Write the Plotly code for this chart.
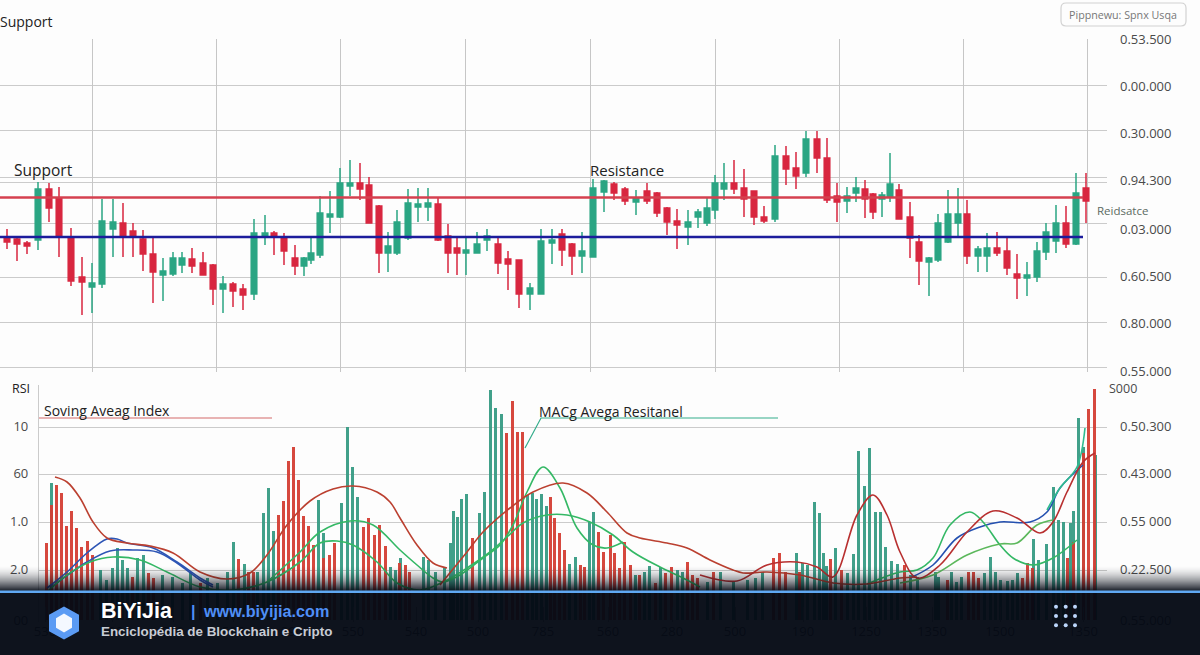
"""Candlestick chart with support / resistance levels and an indicator panel below."""

import plotly.graph_objects as go

# --- price panel ---
candle_x = [7, 17, 27, 38, 49, 59, 71, 82, 92, 102, 113, 123, 133, 143, 153, 163, 173, 182, 192, 203,
            213, 223, 233, 243, 254, 265, 274, 284, 295, 304, 311, 320, 330, 340, 350, 360, 369, 379, 388, 397,
            408, 418, 428, 438, 448, 457, 466, 477, 487, 498, 508, 519, 530, 541, 552, 562, 572, 582, 593, 604,
            614, 625, 636, 647, 657, 667, 677, 688, 698, 707, 715, 724, 734, 744, 754, 764, 775, 786, 796, 806,
            817, 827, 837, 847, 856, 865, 873, 882, 890, 899, 910, 919, 929, 938, 948, 958, 967, 978, 987, 997,
            1007, 1017, 1027, 1037, 1046, 1056, 1066, 1076, 1086]
candle_open = [135, 133, 129, 132, 183, 174, 134, 95, 85, 88, 143, 149, 141, 133, 118, 97, 98, 107, 113, 109,
               107, 83, 88, 83, 78, 136, 139, 134, 114, 106, 112, 117, 155, 155, 186, 189, 187, 166, 119, 119,
               134, 165, 165, 168, 136, 124, 119, 119, 132, 128, 113, 112, 78, 78, 129, 138, 128, 116, 115, 180,
               188, 183, 170, 181, 179, 164, 151, 145, 155, 149, 162, 183, 189, 184, 181, 155, 153, 216, 204, 199,
               233, 214, 176, 171, 179, 183, 178, 173, 175, 182, 155, 130, 110, 112, 130, 149, 158, 116, 116, 124,
               121, 98, 94, 95, 120, 131, 149, 128, 184]
candle_high = [143, 135, 131, 190, 189, 185, 144, 115, 109, 173, 173, 169, 149, 142, 134, 114, 120, 120, 124, 120,
               108, 96, 90, 88, 153, 157, 141, 139, 127, 115, 136, 176, 181, 204, 212, 209, 195, 167, 140, 162,
               183, 184, 184, 175, 148, 134, 135, 140, 143, 135, 121, 112, 89, 143, 143, 143, 129, 140, 193, 192,
               190, 185, 182, 189, 180, 165, 163, 162, 163, 174, 197, 209, 212, 203, 181, 166, 227, 226, 220, 241,
               241, 234, 189, 185, 195, 192, 179, 180, 219, 188, 170, 137, 115, 158, 182, 184, 172, 126, 139, 140,
               134, 118, 110, 130, 149, 167, 166, 199, 199]
candle_low = [123, 111, 118, 122, 150, 115, 86, 57, 59, 84, 115, 115, 115, 101, 69, 71, 96, 99, 99, 97,
              67, 59, 65, 62, 72, 127, 117, 107, 97, 96, 108, 114, 139, 154, 176, 172, 149, 99, 100, 117,
              132, 150, 151, 131, 99, 97, 97, 119, 121, 98, 82, 64, 62, 78, 108, 106, 97, 99, 115, 160,
              172, 167, 157, 168, 155, 137, 123, 127, 144, 146, 153, 172, 178, 155, 147, 149, 150, 187, 183, 195,
              199, 169, 150, 159, 170, 154, 153, 155, 170, 153, 114, 87, 76, 110, 129, 135, 108, 100, 100, 116,
              97, 73, 76, 90, 112, 119, 124, 127, 149]
candle_close = [130, 128, 126, 183, 164, 135, 91, 90, 89, 151, 150, 136, 135, 118, 100, 101, 114, 114, 106, 97,
                83, 88, 81, 77, 139, 139, 135, 121, 106, 114, 119, 159, 158, 189, 189, 183, 149, 119, 126, 150,
                169, 168, 169, 132, 119, 119, 122, 128, 136, 109, 108, 78, 84, 131, 132, 122, 116, 121, 184, 191,
                179, 171, 174, 171, 159, 150, 147, 150, 160, 164, 189, 189, 183, 173, 155, 151, 216, 203, 196, 233,
                214, 172, 170, 176, 184, 173, 160, 177, 188, 153, 134, 111, 114, 149, 158, 158, 116, 123, 124, 119,
                104, 94, 97, 121, 140, 149, 128, 179, 171]

resistance_level = 174.5
support_level = 135
level_x = [0, 1083]

price_gridlines = [333, 287, 242, 195, 190, 149, 95, 50, 5]
price_ticks = [332.5, 286, 239, 192, 143, 96, 49, 1]
price_labels = ["0.53.500", "0.00.000", "0.30.000", "0.94.300", "0.03.000", "0.60.500", "0.80.000", "0.55.000"]
time_gridlines = [92, 216, 340, 465, 590, 715, 839, 963, 1087]

# --- indicator panel ---
green_bar_x = [51, 100, 106, 112, 117, 122, 127, 137, 143, 162, 172, 182, 190, 207, 217, 227, 233, 244, 257, 263,
               268, 273, 318, 323, 341, 347, 352, 357, 390, 395, 400, 423, 428, 435, 444, 450, 453, 457, 461, 466,
               479, 484, 490, 495, 501, 527, 532, 536, 541, 546, 569, 575, 589, 593, 635, 644, 649, 660, 677, 682,
               707, 720, 733, 747, 755, 762, 796, 802, 807, 814, 819, 823, 826, 835, 847, 853, 858, 864, 869, 875,
               880, 885, 891, 897, 910, 917, 935, 938, 951, 956, 961, 984, 990, 995, 1000, 1007, 1012, 1017, 1033,
               1038, 1046, 1053, 1058, 1063, 1070, 1073, 1078, 1083, 1095]
green_bar_v = [137, 50, 40, 52, 72, 60, 52, 62, 65, 45, 43, 37, 48, 42, 37, 48, 78, 56, 48, 107,
               132, 89, 120, 87, 117, 193, 153, 123, 53, 50, 62, 63, 60, 48, 53, 77, 109, 103, 121, 126,
               107, 128, 230, 212, 206, 125, 127, 121, 126, 114, 56, 63, 98, 108, 45, 48, 54, 53, 50, 48,
               38, 48, 38, 40, 42, 48, 67, 57, 55, 118, 107, 67, 54, 72, 47, 66, 169, 134, 172, 108,
               108, 73, 59, 56, 45, 43, 48, 43, 48, 38, 43, 47, 63, 48, 40, 39, 40, 47, 81,
               60, 76, 133, 100, 98, 97, 109, 202, 173, 165]
red_bar_x = [46, 51, 56, 61, 66, 71, 76, 81, 87, 92, 132, 148, 153, 200, 238, 248, 253, 278, 283, 288,
             293, 298, 303, 308, 313, 323, 329, 334, 363, 368, 374, 379, 385, 399, 405, 409, 472, 506, 512, 517,
             522, 550, 554, 559, 564, 580, 584, 598, 603, 610, 614, 619, 624, 630, 639, 655, 665, 671, 687, 692,
             697, 713, 773, 779, 785, 799, 830, 841, 904, 947, 968, 973, 978, 1022, 1027, 1032, 1067, 1073, 1083,
             1088, 1094]
red_bar_v = [77, 115, 135, 127, 94, 109, 92, 73, 79, 65, 43, 47, 42, 37, 61, 48, 48, 105, 119, 159,
             173, 140, 104, 94, 75, 62, 65, 77, 93, 102, 85, 95, 74, 57, 55, 48, 82, 187, 219, 188,
             188, 123, 102, 87, 70, 55, 53, 88, 68, 85, 67, 52, 78, 55, 45, 37, 47, 53, 58, 45,
             42, 48, 62, 67, 48, 48, 61, 50, 55, 40, 48, 48, 42, 42, 57, 52, 62, 78, 167,
             211, 231]

red_line_a_x = [55, 67, 80, 93, 107, 127, 150, 173, 200, 227, 250, 267, 287, 310, 333, 353, 377, 390, 400, 417, 433, 447]
red_line_a_v = [143, 138, 122, 98, 82, 77, 74, 67, 48, 41, 47, 65, 95, 119, 131, 134, 128, 118, 102, 75, 57, 52]
red_line_b_x = [440, 467, 483, 510, 533, 563, 587, 607, 627, 640, 667, 687, 710, 733, 743, 767, 800, 833, 867, 900, 917]
red_line_b_v = [35, 68, 88, 112, 128, 137, 127, 108, 87, 82, 77, 72, 60, 50, 47, 48, 45, 37, 36, 42, 43]
red_line_c_x = [700, 737, 767, 797, 817, 833, 857, 873, 887, 900, 917, 940, 967, 993, 1017, 1040, 1053, 1067, 1083, 1095]
red_line_c_v = [45, 39, 55, 58, 53, 43, 105, 125, 105, 68, 42, 55, 88, 109, 102, 87, 98, 128, 158, 167]

blue_line_a_x = [47, 67, 87, 107, 117, 127, 153, 177, 200, 213]
blue_line_a_v = [32, 48, 67, 81, 81, 77, 72, 58, 42, 35]
blue_line_b_x = [50, 87, 110, 133, 157, 177, 200, 213]
blue_line_b_v = [32, 58, 69, 70, 68, 57, 40, 33]
blue_line_c_x = [910, 933, 957, 980, 1000, 1030, 1047, 1060, 1083]
blue_line_c_v = [42, 55, 82, 93, 98, 98, 108, 132, 155]

green_line_a_x = [47, 67, 90, 113, 140, 167, 200, 233, 267, 300, 320, 337, 353, 377, 397, 420, 443, 467, 490, 507,
                  523, 547, 567, 590, 613, 633, 660, 683, 700]
green_line_a_v = [28, 45, 58, 63, 60, 48, 33, 30, 38, 58, 77, 79, 75, 58, 37, 30, 38, 52, 68, 83,
                  97, 105, 105, 98, 85, 68, 53, 42, 33]
green_line_b_x = [267, 300, 320, 350, 373, 400, 417, 433, 443, 460, 483, 500, 513, 527, 543, 560, 577, 593, 607, 623]
green_line_b_v = [38, 68, 88, 99, 95, 70, 55, 42, 38, 45, 62, 75, 95, 128, 153, 132, 92, 75, 72, 78]
green_line_c_x = [867, 900, 917, 933, 950, 970, 983, 1000, 1013, 1033, 1053, 1077]
green_line_c_v = [36, 48, 50, 62, 95, 108, 98, 75, 62, 55, 62, 80]
green_line_d_x = [900, 933, 967, 1000, 1017, 1037, 1053]
green_line_d_v = [37, 45, 65, 76, 77, 95, 100]
teal_line_x = [1047, 1060, 1077, 1085]
teal_line_v = [110, 132, 153, 192]

callout_red_x = [39, 272]
callout_red_v = [202, 202]
callout_green_x = [525, 541, 778]
callout_green_v = [172, 202, 202]

rsi_gridlines = [235, 193, 146, 98, 50]
rsi_ticks = [194, 146.3, 98.3, 50.3, 0]
rsi_labels = ["10", "60", "1.0", "2.0", "00"]
macd_labels = ["0.50.300", "0.43.000", "0.55 000", "0.22.500", "0.55.000"]
lower_x_ticks = [45, 112, 173, 233, 292, 353, 416, 478, 543, 608, 672, 735, 803, 866, 932, 1000, 1083]
lower_x_labels = ["530", "590", "540", "585", "290", "550", "540", "500", "785", "560", "280", "500",
                  "190", "1250", "1350", "1500", "1350"]

GREEN = "#2aa583"
RED = "#d8263f"
GRID = "#cbcbcb"
TICK_FONT = dict(family="Open Sans", size=13, color="#4a4a4a")
BANNER = "4,9,20"


def px(x):
    return x / 1200


def py(y):
    return 1 - y / 655


def add_line(fig, x, v, color, width=1.6):
    fig.add_trace(go.Scatter(x=x, y=v, mode="lines", xaxis="x2", yaxis="y2",
                             line=dict(color=color, width=width, shape="spline", smoothing=1)))


def add_text(fig, x, y, text, size, color="#222222", family="Open Sans", weight="normal"):
    fig.add_annotation(xref="paper", yref="paper", x=px(x - 1), y=py(y), text=text, showarrow=False,
                       xanchor="left", yanchor="middle", xshift=0, borderpad=0,
                       font=dict(family=family, size=size, color=color, weight=weight))


fig = go.Figure()

fig.add_trace(go.Candlestick(
    x=candle_x, open=candle_open, high=candle_high, low=candle_low, close=candle_close,
    whiskerwidth=0,
    increasing=dict(line=dict(color=GREEN, width=1.5), fillcolor=GREEN),
    decreasing=dict(line=dict(color=RED, width=1.5), fillcolor=RED),
))
fig.add_trace(go.Scatter(x=level_x, y=[resistance_level] * 2, mode="lines", line=dict(color="#d5404f", width=2.5)))
fig.add_trace(go.Scatter(x=level_x, y=[support_level] * 2, mode="lines", line=dict(color="#1c1c9c", width=2.5)))

# slight transparency makes plotly round bar edges rather than widen them
fig.add_trace(go.Bar(x=green_bar_x, y=green_bar_v, width=3, marker=dict(color="rgba(55,155,132,0.95)", line_width=0),
                     xaxis="x2", yaxis="y2"))
fig.add_trace(go.Bar(x=red_bar_x, y=red_bar_v, width=3, marker=dict(color="rgba(212,62,52,0.95)", line_width=0),
                     xaxis="x2", yaxis="y2"))

add_line(fig, blue_line_a_x, blue_line_a_v, "#2d55b5")
add_line(fig, blue_line_b_x, blue_line_b_v, "#2d55b5")
add_line(fig, blue_line_c_x, blue_line_c_v, "#2450b0")
add_line(fig, green_line_a_x, green_line_a_v, "#34b865")
add_line(fig, green_line_b_x, green_line_b_v, "#34b865")
add_line(fig, green_line_c_x, green_line_c_v, "#34b865")
add_line(fig, green_line_d_x, green_line_d_v, "#5cb85c")
add_line(fig, teal_line_x, teal_line_v, "#2fbb90")
add_line(fig, red_line_a_x, red_line_a_v, "#bb4030")
add_line(fig, red_line_b_x, red_line_b_v, "#bb4030")
add_line(fig, red_line_c_x, red_line_c_v, "#b83030")

# callouts live on the overlaying right axis, which also keeps that axis drawn
fig.add_trace(go.Scatter(x=callout_red_x, y=callout_red_v, mode="lines", xaxis="x2", yaxis="y3",
                         line=dict(color="#d46a6a", width=1.2)))
fig.add_trace(go.Scatter(x=callout_green_x, y=callout_green_v, mode="lines", xaxis="x2", yaxis="y3",
                         line=dict(color="#35ad8c", width=1.2)))

fig.update_layout(
    width=1200, height=655, margin=dict(l=0, r=0, t=0, b=0, pad=0, autoexpand=False),
    paper_bgcolor="#fdfdfd", plot_bgcolor="#fdfdfd",
    showlegend=False, barmode="overlay", bargap=0, boxgap=0.2, boxgroupgap=0,
    xaxis=dict(domain=[0, px(1107)], range=[0, 1107], tickvals=time_gridlines, showticklabels=False,
               showgrid=True, gridcolor="#c6c6c6", gridwidth=1.3, zeroline=False, anchor="y", automargin=False,
               rangeslider=dict(visible=False)),
    yaxis=dict(domain=[py(372), py(39)], range=[0, 333], side="right", anchor="x", automargin=False,
               tickvals=price_ticks, ticktext=price_labels, ticklabelstandoff=12, tickfont=TICK_FONT,
               showgrid=False, zeroline=False,
               minor=dict(tickvals=price_gridlines, showgrid=True, gridcolor=GRID, gridwidth=1.2, ticks="")),
    xaxis2=dict(domain=[px(39), px(1107)], range=[39, 1107], anchor="y2", showgrid=False, zeroline=False,
                automargin=False, tickvals=lower_x_ticks, ticktext=lower_x_labels, ticks="inside", ticklen=15,
                tickcolor="#999999", tickfont=TICK_FONT),
    yaxis2=dict(domain=[py(622), py(385)], range=[-2, 235], side="left", anchor="x2", automargin=False,
                tickvals=rsi_ticks, ticktext=rsi_labels, ticklabelstandoff=7, tickfont=TICK_FONT,
                showgrid=False, zeroline=False, showline=True, linecolor=GRID, linewidth=1.2,
                minor=dict(tickvals=rsi_gridlines, showgrid=True, gridcolor=GRID, gridwidth=1.2, ticks="")),
    yaxis3=dict(overlaying="y2", range=[-2, 235], side="right", anchor="x2", automargin=False,
                tickvals=rsi_ticks, ticktext=macd_labels, ticklabelstandoff=12, tickfont=TICK_FONT,
                showgrid=False, zeroline=False),
)

# legend box, top right
x0, x1, y0, y1 = px(1061), px(1186), py(26), py(3)
rx, ry = px(5), 5 / 655
box_path = (f"M {x0 + rx} {y1} L {x1 - rx} {y1} Q {x1} {y1} {x1} {y1 - ry} L {x1} {y0 + ry} Q {x1} {y0} {x1 - rx} {y0} "
            f"L {x0 + rx} {y0} Q {x0} {y0} {x0} {y0 + ry} L {x0} {y1 - ry} Q {x0} {y1} {x0 + rx} {y1} Z")
fig.add_shape(type="path", xref="paper", yref="paper", path=box_path, line=dict(color="#d2d2d2", width=1.2),
              fillcolor="#fdfdfd")

# fade into the footer banner
for row in range(565, 591):
    alpha = ((row - 565) / 26) ** 1.6 * 0.96
    fig.add_shape(type="rect", xref="paper", yref="paper", x0=0, x1=1, y0=py(row + 1), y1=py(row),
                  fillcolor=f"rgba({BANNER},{alpha:.3f})", line_width=0, layer="above")
fig.add_shape(type="rect", xref="paper", yref="paper", x0=0, x1=1, y0=0, y1=py(591),
              fillcolor=f"rgba({BANNER},0.96)", line_width=0, layer="above")
fig.add_shape(type="rect", xref="paper", yref="paper", x0=0, x1=1, y0=py(593), y1=py(590.5),
              fillcolor="#5fa8f2", line_width=0, layer="above")


def hexagon(cx, cy, rw, rh):
    pts = [(cx, cy - rh), (cx + rw, cy - rh / 2), (cx + rw, cy + rh / 2), (cx, cy + rh), (cx - rw, cy + rh / 2),
           (cx - rw, cy - rh / 2)]
    return "M " + " L ".join(f"{px(a)} {py(b)}" for a, b in pts) + " Z"


fig.add_shape(type="path", xref="paper", yref="paper", path=hexagon(64, 623, 15, 16.5), fillcolor="#5b9bf4",
              line_width=0, layer="above")
fig.add_shape(type="path", xref="paper", yref="paper", path=hexagon(64, 623, 8, 9.5), fillcolor="#f4f8ff",
              line_width=0, layer="above")

for dot_x in (1056, 1065.7, 1075):
    for dot_y in (606.7, 616, 625.3):
        fig.add_shape(type="circle", xref="paper", yref="paper", x0=px(dot_x - 2), x1=px(dot_x + 2),
                      y0=py(dot_y + 2), y1=py(dot_y - 2), fillcolor="#bcd6fb", line_width=0, layer="above")

add_text(fig, 0, 21, "Support", 14)
add_text(fig, 14, 170, "Support", 15.5)
add_text(fig, 590, 170, "Resistance", 15)
add_text(fig, 1097, 210, "Reidsatce", 11.5, color="#5c6b62")
add_text(fig, 1069, 15, "Pippnewu: Spnx Usqa", 10.7, color="#777777")
add_text(fig, 12, 388, "RSI", 12.5)
add_text(fig, 44, 410, "Soving Aveag Index", 14)
add_text(fig, 539, 411, "MACg Avega Resitanel", 14)
add_text(fig, 1109, 388, "S000", 12.5, color="#4a4a4a")

add_text(fig, 101, 611, "BiYiJia", 21.5, color="#ffffff", family="Liberation Sans", weight="bold")
add_text(fig, 191, 611, "|", 16, color="#4f8ff7", family="Liberation Sans", weight="bold")
add_text(fig, 203, 611, "www.biyijia.com", 16.2, color="#4f8ff7", family="Liberation Sans", weight="bold")
add_text(fig, 101, 631, "Enciclopédia de Blockchain e Cripto", 13.4, color="#c8ccd4", family="Liberation Sans", weight="bold")

fig.write_html("out.html", config=dict(displayModeBar=False), post_script="document.body.style.margin='0';")
